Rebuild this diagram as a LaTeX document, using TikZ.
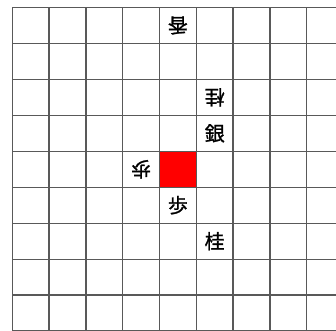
\documentclass[tikz,border=0pt]{standalone}
\usepackage{fontspec}
\newfontfamily\jp[FakeBold=1.2]{Noto Sans CJK JP}
\begin{document}
\begin{tikzpicture}[x=36.8bp,y=-35.95bp,
  gridline/.style={draw=black!65,line width=1.3bp},
  piece/.style={font=\jp\fontsize{20}{22}\selectfont,inner sep=0pt,text=black},
  enemy/.style={piece,rotate=180}]
\useasboundingbox (-12.3bp,7.5bp) rectangle (323.7bp,-323.5bp);
\fill[red] (4,4) rectangle (5,5);
\foreach \j in {0,...,8} \draw[gridline] (0,\j) -- (8.8,\j);
\draw[gridline] (0,8.985) -- (8.8,8.985);
\foreach \i in {0,...,8} \draw[gridline] (\i,0) -- (\i,9.0);
\node[enemy] (kyo) at (4.5,0.5) {香};
\node[enemy] (kei2) at (5.5,2.5) {桂};
\node[piece] (gin) at (5.5,3.5) {銀};
\node[enemy] (fu2) at (3.5,4.5) {歩};
\node[piece] (fu) at (4.5,5.5) {歩};
\node[piece] (kei) at (5.5,6.5) {桂};
\end{tikzpicture}
\end{document}
